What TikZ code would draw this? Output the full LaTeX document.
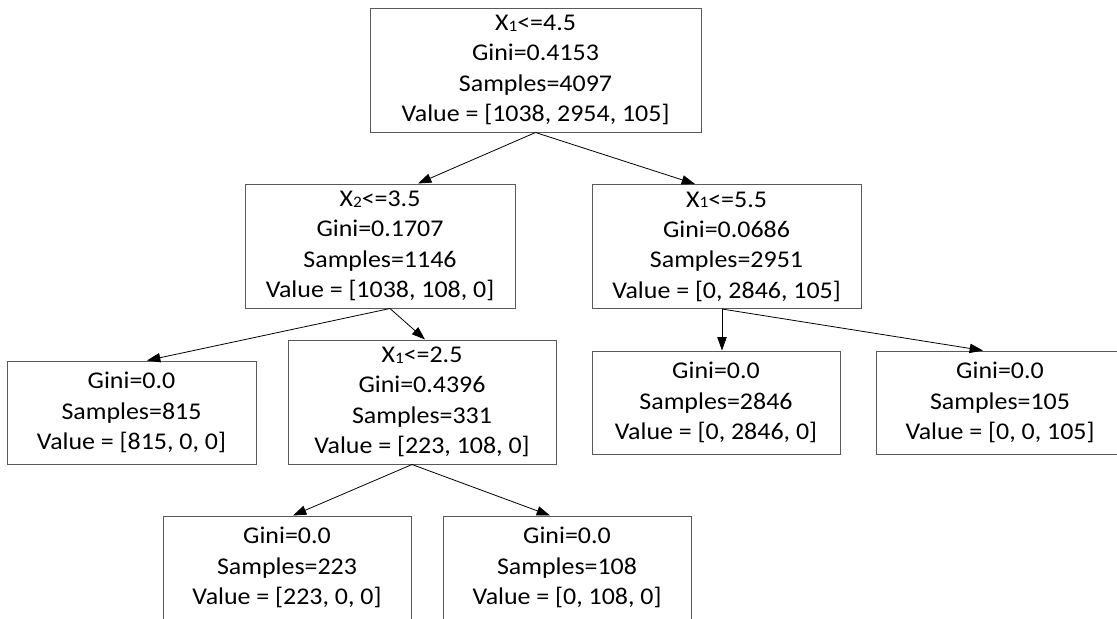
\documentclass[tikz,border=0pt]{standalone}
\usepackage{fontspec}
\setmainfont{Carlito}[FakeStretch=1.08]
\usetikzlibrary{arrows.meta}
\tikzset{
  splitbox/.style={draw=black!65, line width=0.75pt, align=center, inner sep=0pt, minimum height=93pt},
  leafbox/.style={splitbox, minimum height=77.25pt},
  branch/.style={-{Triangle[length=10pt,width=7pt]}, line width=0.6pt}
}
\newcommand{\featsub}[1]{\raisebox{-0.5pt}{\fontsize{12}{12}\selectfont #1}}
\begin{document}
\begin{tikzpicture}[x=0.75pt,y=-0.75pt,font=\fontsize{18}{22.75}\selectfont]
    \clip (0,0) rectangle (1117,618);
    \node[splitbox, minimum width=248.25pt] (root) at (535.5,70)
        {X\featsub{1}<=4.5\\Gini=0.4153\\Samples=4097\\Value = [1038, 2954, 105]};
    \node[splitbox, minimum width=202.5pt] (xtwo) at (380,246)
        {X\featsub{2}<=3.5\\Gini=0.1707\\Samples=1146\\Value = [1038, 108, 0]};
    \node[splitbox, minimum width=201.75pt] (xfive) at (726.5,246.5)
        {X\featsub{1}<=5.5\\Gini=0.0686\\Samples=2951\\Value = [0, 2846, 105]};
    \node[leafbox, minimum width=186.75pt] (leafA) at (131.5,412.5)
        {Gini=0.0\\Samples=815\\Value = [815, 0, 0]};
    \node[splitbox, minimum width=201pt] (xtwofive) at (422,402)
        {X\featsub{1}<=2.5\\Gini=0.4396\\Samples=331\\Value = [223, 108, 0]};
    \node[leafbox, minimum width=186pt] (leafB) at (716,402.5)
        {Gini=0.0\\Samples=2846\\Value = [0, 2846, 0]};
    \node[leafbox, minimum width=186pt] (leafC) at (1000,402.5)
        {Gini=0.0\\Samples=105\\Value = [0, 0, 105]};
    \node[leafbox, minimum width=186pt] (leafD) at (287,567.5)
        {Gini=0.0\\Samples=223\\Value = [223, 0, 0]};
    \node[leafbox, minimum width=186pt] (leafE) at (567,567.5)
        {Gini=0.0\\Samples=108\\Value = [0, 108, 0]};
    \draw[branch] (root.south) -- ([shift={(38,0)}]xtwo.north);
    \draw[branch] (root.south) -- ([shift={(-31.5,0)}]xfive.north);
    \draw[branch] ([shift={(10,0)}]xtwo.south) -- ([shift={(15.5,0)}]leafA.north);
    \draw[branch] ([shift={(10,0)}]xtwo.south) -- ([shift={(3,0)}]xtwofive.north);
    \draw[branch] ([shift={(-4.5,0)}]xfive.south) -- ([shift={(6,0)}]leafB.north);
    \draw[branch] ([shift={(-4.5,0)}]xfive.south) -- ([shift={(-17,0)}]leafC.north);
    \draw[branch] ([shift={(-10,0)}]xtwofive.south) -- ([shift={(6,0)}]leafD.north);
    \draw[branch] ([shift={(-10,0)}]xtwofive.south) -- ([shift={(-17,0)}]leafE.north);
\end{tikzpicture}
\end{document}
